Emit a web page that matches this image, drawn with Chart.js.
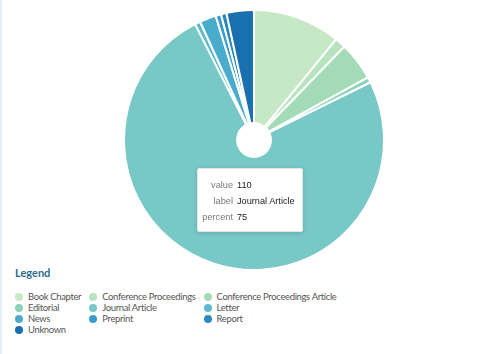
<!DOCTYPE html>
<html>
<head>
<meta charset="utf-8">
<script src="https://cdn.jsdelivr.net/npm/chart.js@4"></script>
<style>
  html, body { margin: 0; padding: 0; background: #fff; }
  body { width: 498px; height: 354px; position: relative; overflow: hidden; border-left: 2px solid #e4eef7; box-sizing: border-box; }
  #pieWrap { position: absolute; left: 121px; top: 9px; width: 262px; height: 262px; }
  #tip {
    position: absolute; left: 195px; top: 168px; width: 106px; height: 64px;
    background: #fff; border: 1px solid #e2e6ea; border-radius: 2px;
    box-shadow: 0 1px 4px rgba(0,0,0,0.15);
    font-family: "Liberation Sans", Arial, sans-serif; font-size: 9.2px; box-sizing: border-box;
  }
  #tip table { border-collapse: collapse; margin-top: 8px; white-space: nowrap; }
  #tip td { padding: 0; height: 16px; line-height: 16px; }
  #tip td.k { color: #777; text-align: right; width: 35px; padding-right: 4px; }
  #tip td.v { color: #222; }
  #legendTitle { position: absolute; left: 13px; top: 266px; font-family: "Lato", sans-serif; font-weight: bold; font-size: 11px; color: #2c6c8d; }
  #legend {
    position: absolute; left: 13px; top: 291px;
    display: grid; grid-template-columns: repeat(3, auto); column-gap: 8px;
    font-family: "Lato", sans-serif; font-size: 9.4px; letter-spacing: -0.3px; color: #555;
  }
  .item { display: flex; align-items: center; height: 11px; white-space: nowrap; }
  .dot { width: 8px; height: 8px; border-radius: 50%; margin-right: 5px; flex: none; }
</style>
</head>
<body>
<div id="pieWrap"><canvas id="pie"></canvas></div>
<div id="tip"></div>
<div id="legendTitle">Legend</div>
<div id="legend"></div>
<script>
// categories, values, colours
const categories = ['Book Chapter', 'Conference Proceedings', 'Conference Proceedings Article', 'Editorial',
  'Journal Article', 'Letter', 'News', 'Preprint', 'Report', 'Unknown'];
const counts = [16, 2, 7, 1, 110, 1, 3, 1, 1, 5];
const colors = ['#c6e8c4', '#b8e3bf', '#a3dbb8', '#8dd2ba', '#77c8c6', '#5fbacf', '#4aaccd', '#3b9ccb', '#2a88be', '#1a6fae'];
const activeIndex = 4; // tooltip shown for Journal Article

new Chart(document.getElementById('pie'), {
  type: 'doughnut',
  data: {
    labels: categories,
    datasets: [{
      data: counts,
      backgroundColor: colors,
      borderColor: '#fff',
      borderWidth: 2,
      borderRadius: 2
    }]
  },
  options: {
    responsive: true,
    maintainAspectRatio: false,
    animation: false,
    cutout: '13%',
    layout: { padding: 0 },
    plugins: { legend: { display: false }, tooltip: { enabled: false } }
  }
});

// tooltip box
const total = counts.reduce((a, b) => a + b, 0);
document.getElementById('tip').innerHTML = `
  <table>
    <tr><td class="k">value</td><td class="v">${counts[activeIndex]}</td></tr>
    <tr><td class="k">label</td><td class="v">${categories[activeIndex]}</td></tr>
    <tr><td class="k">percent</td><td class="v">${Math.round(counts[activeIndex] / total * 100)}</td></tr>
  </table>`;

// legend
const legend = document.getElementById('legend');
categories.forEach((name, i) => {
  const div = document.createElement('div');
  div.className = 'item';
  div.innerHTML = `<span class="dot" style="background:${colors[i]}"></span>${name}`;
  legend.appendChild(div);
});
</script>
</body>
</html>
